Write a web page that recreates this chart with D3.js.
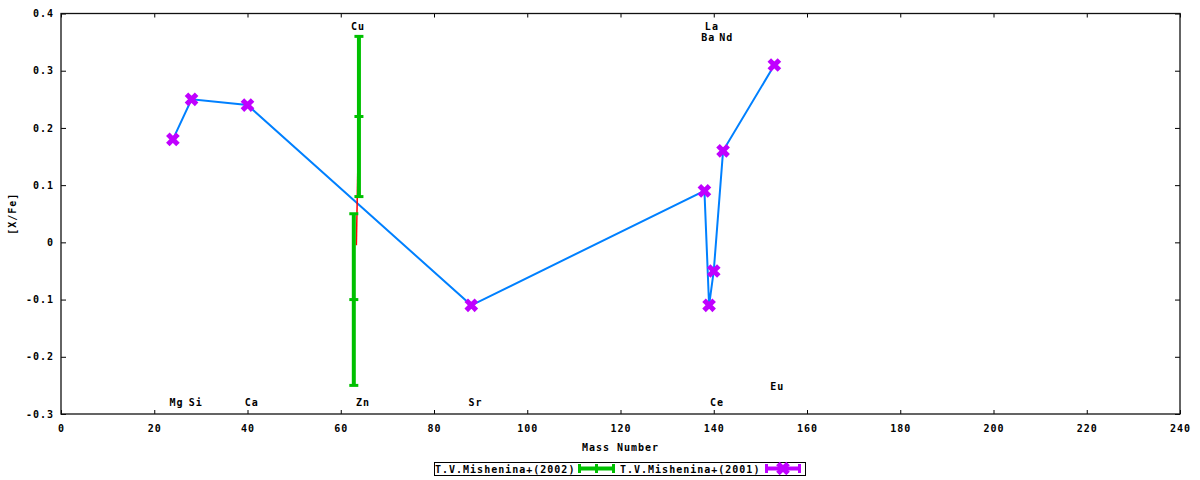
<!DOCTYPE html>
<html>
<head>
<meta charset="utf-8">
<script src="https://cdn.jsdelivr.net/npm/d3@7"></script>
<style>
  body { margin: 0; background: #fff; }
  text { font-family: "DejaVu Sans Mono", monospace; font-weight: bold; font-size: 10px; letter-spacing: 1px; fill: #000; }
</style>
</head>
<body>
<div id="chart"></div>
<script>
// T.V.Mishenina+(2001) : mass number and [X/Fe]
var mass2001 = [24, 28, 40, 88, 138, 139, 140, 142, 153];
var val2001 = [0.18, 0.25, 0.24, -0.11, 0.09, -0.11, -0.05, 0.16, 0.31];

// T.V.Mishenina+(2002) : with error bars
var mass2002 = [63.9, 62.8];
var val2002 = [0.22, -0.10];
var err2002 = [0.14, 0.15];

// short red trace near Cu/Zn
var redMass = [63.65, 63.35];
var redVal = [0.125, -0.005];

// element labels
var labelNames = ["Mg", "Si", "Ca", "Cu", "Zn", "Sr", "Ba", "La", "Ce", "Nd", "Eu"];
var labelMass = [24.8, 28.9, 40.9, 63.7, 64.8, 88.9, 138.8, 139.6, 140.7, 142.7, 153.6];
var labelVal = [-0.28, -0.28, -0.28, 0.378, -0.28, -0.28, 0.358, 0.378, -0.28, 0.358, -0.252];

var xTicks = [0, 20, 40, 60, 80, 100, 120, 140, 160, 180, 200, 220, 240];
var yTicks = [-0.3, -0.2, -0.1, 0, 0.1, 0.2, 0.3, 0.4];

var legendNames = ["T.V.Mishenina+(2002)", "T.V.Mishenina+(2001)"];

var margin = {
        top: 13.5,
        right: 20,
        bottom: 66,
        left: 61
    },
    width = 1200 - margin.left - margin.right,
    height = 480 - margin.top - margin.bottom;

var X = d3.scaleLinear()
    .domain([0, 240])
    .range([0, width]);

var Y = d3.scaleLinear()
    .domain([-0.3, 0.4])
    .range([height, 0]);

var root = d3.select("#chart").append("svg")
    .attr("width", 1200)
    .attr("height", 480);

var svg = root.append("g")
    .attr("transform", "translate(" + margin.left + "," + margin.top + ")");

var yFmt = function(d) {
    return Math.abs(d) < 1e-9 ? "0" : d.toFixed(1);
};

// axes, ticks pointing inward on all four sides
svg.append("g")
    .attr("transform", "translate(0," + height + ")")
    .call(d3.axisBottom(X).tickValues(xTicks).tickSizeInner(-4).tickSizeOuter(0).tickPadding(11).tickFormat(d3.format("d")));
svg.append("g")
    .call(d3.axisTop(X).tickValues(xTicks).tickSizeInner(-4).tickSizeOuter(0).tickFormat(""));
svg.append("g")
    .call(d3.axisLeft(Y).tickValues(yTicks).tickSizeInner(-5).tickSizeOuter(0).tickPadding(7).tickFormat(yFmt));
svg.append("g")
    .attr("transform", "translate(" + width + ",0)")
    .call(d3.axisRight(Y).tickValues(yTicks).tickSizeInner(-5).tickSizeOuter(0).tickFormat(""));

svg.selectAll(".domain").remove();
svg.selectAll(".tick line").attr("stroke", "#000");
svg.selectAll(".tick text")
    .style("font-family", "DejaVu Sans Mono")
    .style("font-size", "10px")
    .style("font-weight", "bold");

svg.append("rect")
    .attr("width", width)
    .attr("height", height)
    .attr("fill", "none")
    .attr("stroke", "#111")
    .attr("stroke-width", 1.3);

// axis titles
svg.append("text")
    .attr("x", width / 2)
    .attr("y", height + 37)
    .attr("text-anchor", "middle")
    .text("Mass Number");

svg.append("text")
    .attr("transform", "translate(" + (12.5 - margin.left) + "," + (height / 2) + ") rotate(-90)")
    .attr("text-anchor", "middle")
    .attr("dy", "0.35em")
    .text("[X/Fe]");

// element labels
svg.selectAll(".elem")
    .data(labelNames)
    .enter().append("text")
    .attr("class", "elem")
    .attr("x", function(d, i) {
        return X(labelMass[i]);
    })
    .attr("y", function(d, i) {
        return Y(labelVal[i]);
    })
    .attr("dy", "0.35em")
    .attr("text-anchor", "middle")
    .text(function(d) {
        return d;
    });

// blue line through the 2001 points
var pts2001 = mass2001.map(function(m, i) {
    return [m, val2001[i]];
});

var line = d3.line()
    .x(function(d) {
        return X(d[0]);
    })
    .y(function(d) {
        return Y(d[1]);
    });

svg.append("path")
    .datum(pts2001)
    .attr("d", line)
    .attr("fill", "none")
    .attr("stroke", "#0080ff")
    .attr("stroke-width", 2);

// red trace
svg.append("path")
    .datum(redMass.map(function(m, i) {
        return [m, redVal[i]];
    }))
    .attr("d", line)
    .attr("fill", "none")
    .attr("stroke", "#ff0000")
    .attr("stroke-width", 1.5);

// green error bars (2002)
function errorBar(g, cx, cy, top, bottom, color) {
    g.append("line")
        .attr("x1", cx).attr("x2", cx)
        .attr("y1", top).attr("y2", bottom)
        .attr("stroke", color)
        .attr("stroke-width", 4);
    [top, cy, bottom].forEach(function(yy) {
        g.append("line")
            .attr("x1", cx - 4.5).attr("x2", cx + 4.5)
            .attr("y1", yy).attr("y2", yy)
            .attr("stroke", color)
            .attr("stroke-width", 3);
    });
}

var green = svg.append("g");
mass2002.forEach(function(m, i) {
    errorBar(green, X(m), Y(val2002[i]), Y(val2002[i] + err2002[i]), Y(val2002[i] - err2002[i]), "#00c000");
});

// purple markers (2001)
var crossPath = "M-3.3,-3.3L3.3,3.3M3.3,-3.3L-3.3,3.3";
svg.selectAll(".pt")
    .data(pts2001)
    .enter().append("path")
    .attr("class", "pt")
    .attr("transform", function(d) {
        return "translate(" + X(d[0]) + "," + Y(d[1]) + ")";
    })
    .attr("d", crossPath)
    .attr("fill", "none")
    .attr("stroke", "#c000ff")
    .attr("stroke-width", 5)
    .attr("stroke-linecap", "square");

// legend
var leg = root.append("g");
leg.append("rect")
    .attr("x", 434.5).attr("y", 462.5)
    .attr("width", 371).attr("height", 13)
    .attr("fill", "#fff")
    .attr("stroke", "#000")
    .attr("stroke-width", 1);

leg.append("text")
    .attr("x", 435).attr("y", 472.5)
    .text(legendNames[0]);
leg.append("line")
    .attr("x1", 578).attr("x2", 615)
    .attr("y1", 468.5).attr("y2", 468.5)
    .attr("stroke", "#00c000").attr("stroke-width", 4);
[579.5, 596.5, 613.5].forEach(function(xx) {
    leg.append("line")
        .attr("x1", xx).attr("x2", xx)
        .attr("y1", 464).attr("y2", 473)
        .attr("stroke", "#00c000").attr("stroke-width", 3);
});

leg.append("text")
    .attr("x", 620).attr("y", 472.5)
    .text(legendNames[1]);
leg.append("line")
    .attr("x1", 765).attr("x2", 801)
    .attr("y1", 468.5).attr("y2", 468.5)
    .attr("stroke", "#c000ff").attr("stroke-width", 4);
[766.5, 799.5].forEach(function(xx) {
    leg.append("line")
        .attr("x1", xx).attr("x2", xx)
        .attr("y1", 464).attr("y2", 473)
        .attr("stroke", "#c000ff").attr("stroke-width", 3);
});
leg.append("path")
    .attr("transform", "translate(783,468.5)")
    .attr("d", crossPath)
    .attr("fill", "none")
    .attr("stroke", "#c000ff")
    .attr("stroke-width", 5)
    .attr("stroke-linecap", "square");
</script>
</body>
</html>
